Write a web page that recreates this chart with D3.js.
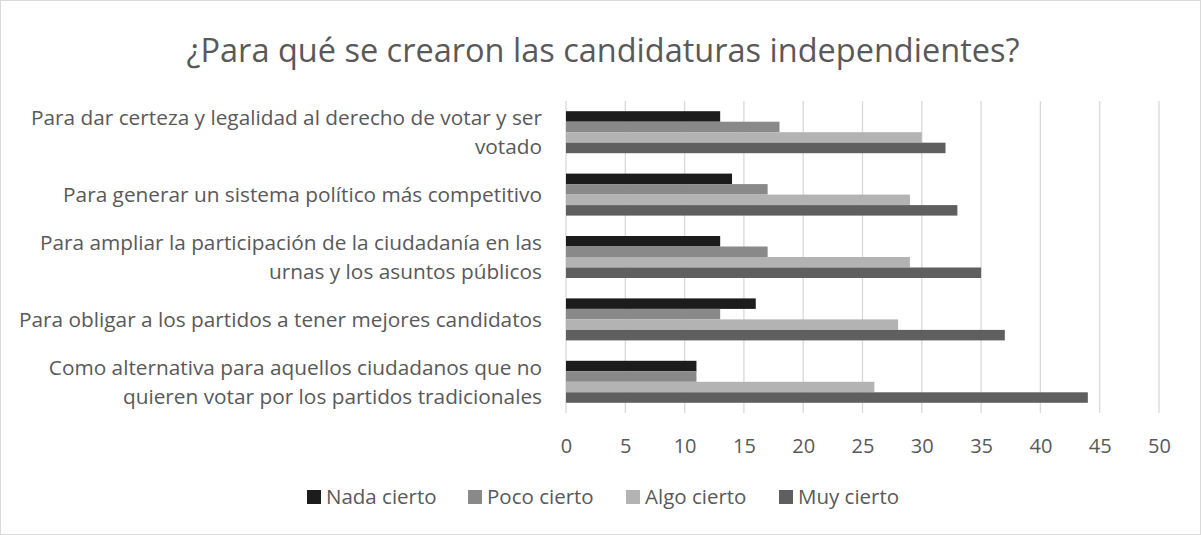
<!DOCTYPE html>
<html lang="es">
<head>
<meta charset="utf-8">
<title>Candidaturas independientes</title>
<script src="https://d3js.org/d3.v7.min.js"></script>
<style>
  body { margin: 0; background: #fff; }
  svg text { font-family: "Open Sans", sans-serif; fill: #595959; }
</style>
</head>
<body>
<script>
// Categories (top to bottom) and series values
var categories = [
  ["Para dar certeza y legalidad al derecho de votar y ser", "votado"],
  ["Para generar un sistema político más competitivo"],
  ["Para ampliar la participación de la ciudadanía en las", "urnas y los asuntos públicos"],
  ["Para obligar a los partidos a tener mejores candidatos"],
  ["Como alternativa para aquellos ciudadanos que no", "quieren votar por los partidos tradicionales"]
];
var seriesNames = ["Nada cierto", "Poco cierto", "Algo cierto", "Muy cierto"];
var nadaCierto = [13, 14, 13, 16, 11];
var pocoCierto = [18, 17, 17, 13, 11];
var algoCierto = [30, 29, 29, 28, 26];
var muyCierto  = [32, 33, 35, 37, 44];
var xTicks = [0, 5, 10, 15, 20, 25, 30, 35, 40, 45, 50];
var colors = ["#1c1c1c", "#898989", "#b3b3b3", "#5f5f5f"];

var seriesValues = [nadaCierto, pocoCierto, algoCierto, muyCierto];

var width = 1201, height = 535;
var margin = {top: 101, right: 42, bottom: 122, left: 566};
var plotW = width - margin.left - margin.right;
var plotH = height - margin.top - margin.bottom;

var svg = d3.select("body").append("svg")
  .attr("width", width)
  .attr("height", height);

// outer border
svg.append("rect")
  .attr("x", 0.5).attr("y", 0.5)
  .attr("width", width - 1).attr("height", height - 1)
  .attr("fill", "#fff").attr("stroke", "#d9d9d9");

// title
svg.append("text")
  .attr("x", 603).attr("y", 62)
  .attr("text-anchor", "middle")
  .style("font-size", "32.5px")
  .text("¿Para qué se crearon las candidaturas independientes?");

var g = svg.append("g")
  .attr("transform", "translate(" + margin.left + "," + margin.top + ")");

var xScale = d3.scaleLinear().domain([0, 50]).range([0, plotW]);
var yScale = d3.scaleBand()
  .domain(d3.range(categories.length))
  .range([0, plotH])
  .paddingInner(0.327)
  .paddingOuter(0.1635);
var subScale = d3.scaleBand()
  .domain(d3.range(seriesNames.length))
  .range([0, yScale.bandwidth()]);

// gridlines
g.selectAll(".grid")
  .data(xTicks)
  .enter().append("line")
  .attr("x1", function(d) { return xScale(d); })
  .attr("x2", function(d) { return xScale(d); })
  .attr("y1", 0).attr("y2", plotH)
  .attr("stroke", "#d9d9d9")
  .attr("stroke-width", 1.3);

// x axis labels
var xAxis = d3.axisBottom(xScale).tickValues(xTicks).tickSize(0).tickPadding(26);
var xg = g.append("g")
  .attr("transform", "translate(0," + plotH + ")")
  .call(xAxis);
xg.select(".domain").remove();
xg.selectAll("text")
  .style("font-size", "20px")
  .style("font-family", "'Open Sans', sans-serif")
  .attr("fill", "#595959");

// bars
var groups = g.selectAll(".cat")
  .data(categories)
  .enter().append("g")
  .attr("transform", function(d, i) { return "translate(0," + yScale(i) + ")"; });

groups.selectAll("rect")
  .data(function(d, i) {
    return seriesValues.map(function(s, j) { return {series: j, value: s[i]}; });
  })
  .enter().append("rect")
  .attr("x", xScale(0))
  .attr("y", function(d) { return subScale(d.series); })
  .attr("width", function(d) { return xScale(d.value) - xScale(0); })
  .attr("height", subScale.bandwidth())
  .attr("fill", function(d) { return colors[d.series]; });

// category labels
var lineH = 29;
groups.append("text")
  .attr("text-anchor", "end")
  .style("font-size", "20.8px")
  .each(function(d) {
    var t = d3.select(this);
    var n = d.length;
    d.forEach(function(line, k) {
      t.append("tspan")
        .attr("x", -24)
        .attr("y", yScale.bandwidth() / 2 + (k - (n - 1) / 2) * lineH)
        .attr("dy", "0.35em")
        .text(line);
    });
  });

// legend
var legendX = [307, 468, 626, 779];
var legend = svg.selectAll(".legend")
  .data(seriesNames)
  .enter().append("g")
  .attr("transform", function(d, i) { return "translate(" + legendX[i] + ",497)"; });
legend.append("rect")
  .attr("x", 0).attr("y", -7)
  .attr("width", 14).attr("height", 14)
  .attr("fill", function(d, i) { return colors[i]; });
legend.append("text")
  .attr("x", 19).attr("dy", "0.35em")
  .style("font-size", "20.5px")
  .text(function(d) { return d; });
</script>
</body>
</html>
